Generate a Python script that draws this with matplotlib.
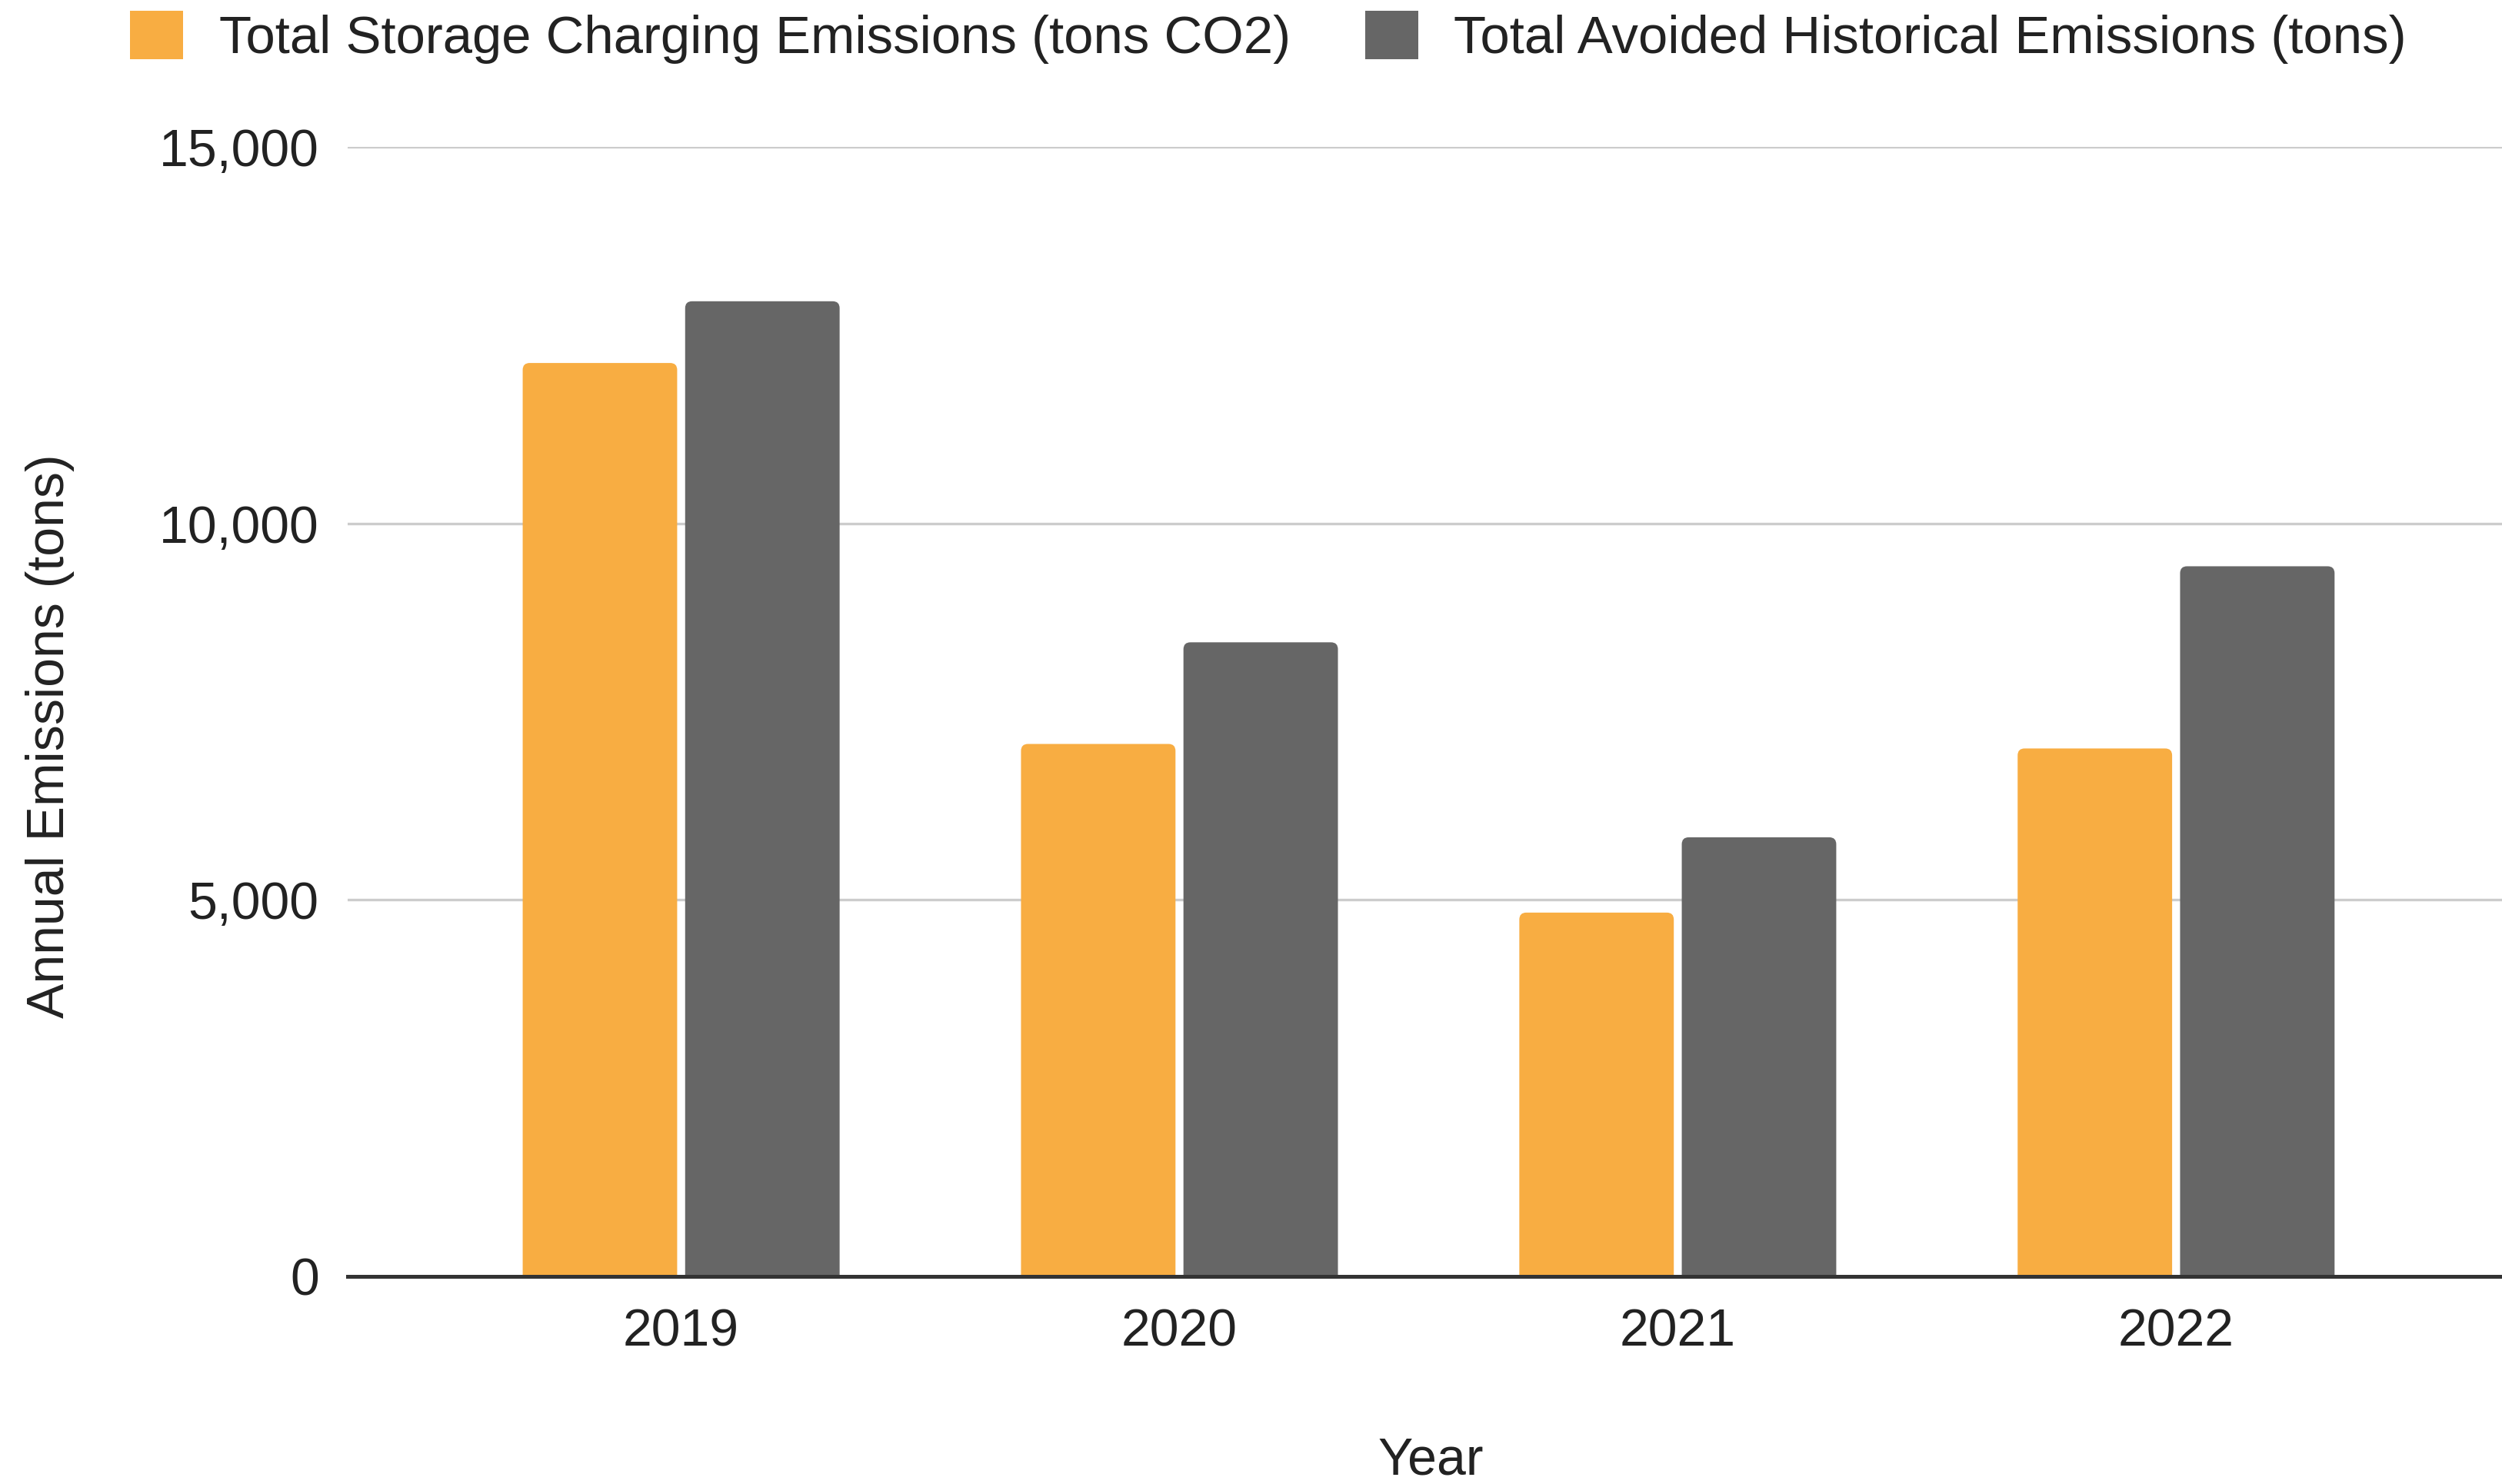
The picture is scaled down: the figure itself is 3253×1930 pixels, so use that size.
import matplotlib
matplotlib.use("Agg")
import matplotlib.pyplot as plt
import numpy as np
from matplotlib.patches import FancyBboxPatch
from matplotlib.ticker import FuncFormatter, MultipleLocator

years = ["2019", "2020", "2021", "2022"]
charging_emissions = [12130, 7070, 4830, 7010]
avoided_emissions = [12950, 8420, 5830, 9430]
series_names = [
    "Total Storage Charging Emissions (tons CO2)",
    "Total Avoided Historical Emissions (tons)",
]

ORANGE = "#F8AD42"
GRAY = "#666666"

plt.rcParams["font.family"] = ["Liberation Sans", "DejaVu Sans"]
plt.rcParams["font.size"] = 49

fig = plt.figure(figsize=(32.53, 19.30), dpi=100)
ax = fig.add_axes([0.139, 0.140, 0.861, 0.761])

x = np.arange(len(years))
width = 0.31
offset = 0.163

bars_a = ax.bar(x - offset, charging_emissions, width, color=ORANGE, label=series_names[0])
bars_b = ax.bar(x + offset, avoided_emissions, width, color=GRAY, label=series_names[1])

xmin, xmax = -0.669, 3.654
ax.set_xlim(xmin, xmax)
ax.set_ylim(0, 15000)

# swap the plain rectangles for ones with slightly rounded tops
px_per_x = ax.get_position().width * fig.get_figwidth() * fig.dpi / (xmax - xmin)
px_per_y = ax.get_position().height * fig.get_figheight() * fig.dpi / 15000
aspect = px_per_x / px_per_y
radius = 9 / px_per_x
for bars in (bars_a, bars_b):
    for rect in bars:
        x0, w, h = rect.get_x(), rect.get_width(), rect.get_height()
        rect.set_visible(False)
        pad_y = radius * aspect
        fb = FancyBboxPatch(
            (x0, -pad_y), w, h + pad_y,
            boxstyle=f"round,pad=0,rounding_size={radius}",
            mutation_aspect=aspect,
            facecolor=rect.get_facecolor(), edgecolor="none",
            zorder=2, clip_on=True,
        )
        ax.add_patch(fb)

ax.yaxis.set_major_locator(MultipleLocator(5000))
ax.yaxis.set_major_formatter(FuncFormatter(lambda v, _: f"{v:,.0f}"))
ax.set_xticks(x)
ax.set_xticklabels(years)

ax.grid(axis="y", color="#CCCCCC", linewidth=2.4, zorder=0)
ax.set_axisbelow(True)
for side in ("top", "right", "left"):
    ax.spines[side].set_visible(False)
ax.spines["bottom"].set_color("#333333")
ax.spines["bottom"].set_linewidth(3.6)
ax.spines["bottom"].set_zorder(3)

ax.tick_params(axis="both", length=0, colors="#222222", labelsize=49)
ax.tick_params(axis="y", pad=27)
ax.tick_params(axis="x", pad=29)

fig.text(0.572, 0.016, "Year", ha="center", va="center", fontsize=49, color="#222222")
fig.text(0.020, 0.504, "Annual Emissions (tons)", ha="center", va="center",
         rotation=90, fontsize=49, color="#222222")

leg = fig.legend(
    handles=[bars_a, bars_b], labels=series_names,
    loc="center", bbox_to_anchor=(0.507, 0.975), ncol=2, frameon=False,
    fontsize=49.6, handlelength=1.0, handleheight=1.05, handletextpad=0.68,
    columnspacing=1.4, borderpad=0, labelcolor="#222222",
)
for h in leg.legend_handles:
    h.set_visible(True)

fig.savefig("out.png", dpi=100, facecolor="white")
